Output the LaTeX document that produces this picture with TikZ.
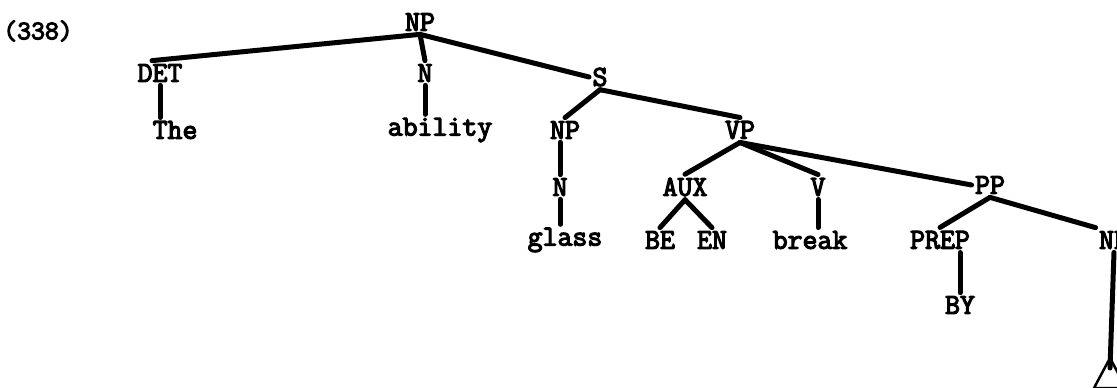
\documentclass[tikz,border=0pt]{standalone}
\usepackage{fontspec}
\newfontfamily\treefont[FakeBold=4]{Latin Modern Mono}

\begin{document}
\begin{tikzpicture}[x=1pt,y=-1pt,every node/.style={font=\fontsize{29}{30}\selectfont\treefont,inner sep=1pt},line width=5pt,line cap=round]
\useasboundingbox (0,0) rectangle (1117,388);
\clip (0,0) rectangle (1117,388);
\node[font=\fontsize{27}{28}\selectfont\treefont] (num) at (38,31) {(338)};
\node (np0) at (420,22) {NP};
\node (det) at (160,73) {DET};
\node (n0) at (425,73) {N};
\node (s) at (600,77) {S};
\node (the) at (175,130) {The};
\node (abil) at (440,130) {ability};
\node (np1) at (565,130) {NP};
\node (vp) at (740,130) {VP};
\node (n1) at (560,187) {N};
\node (aux) at (685,187) {AUX};
\node (v) at (818,187) {V};
\node (pp) at (990,185) {PP};
\node (glass) at (565,240) {glass};
\node (be) at (660,240) {BE};
\node (en) at (712,240) {EN};
\node (brk) at (810,240) {break};
\node (prep) at (940,240) {PREP};
\node (np2) at (1114,240) {NP};
\node (by) at (960,305) {BY};
\coordinate (top) at (1110,358);
\draw (np0.south) -- ([xshift=-8pt]det.north);
\draw (np0.south) -- (n0.north);
\draw (np0.south) -- (s.west);
\draw (det.south) -- (det.south |- the.north);
\draw (n0.south) -- (n0.south |- abil.north);
\draw (s.south) -- (np1.north);
\draw (s.south) -- (vp.north);
\draw (n1.north |- np1.south) -- (n1.north);
\draw (n1.south) -- (n1.south |- glass.north);
\draw (vp.south) -- (aux.north);
\draw (vp.south) -- (v.north);
\draw (vp.south) -- (pp.west);
\draw (aux.south) -- (be.north);
\draw (aux.south) -- (en.north);
\draw (v.south) -- (v.south |- brk.north);
\draw (pp.south) -- (prep.north);
\draw (pp.south) -- (np2.north west);
\draw (by.north |- prep.south) -- (by.north);
\draw (np2.south) -- ([yshift=-10pt]top);
\draw[line width=2.5pt,line join=round] (top) -- (1094,388) -- (1126,388) -- cycle;
\end{tikzpicture}
\end{document}
